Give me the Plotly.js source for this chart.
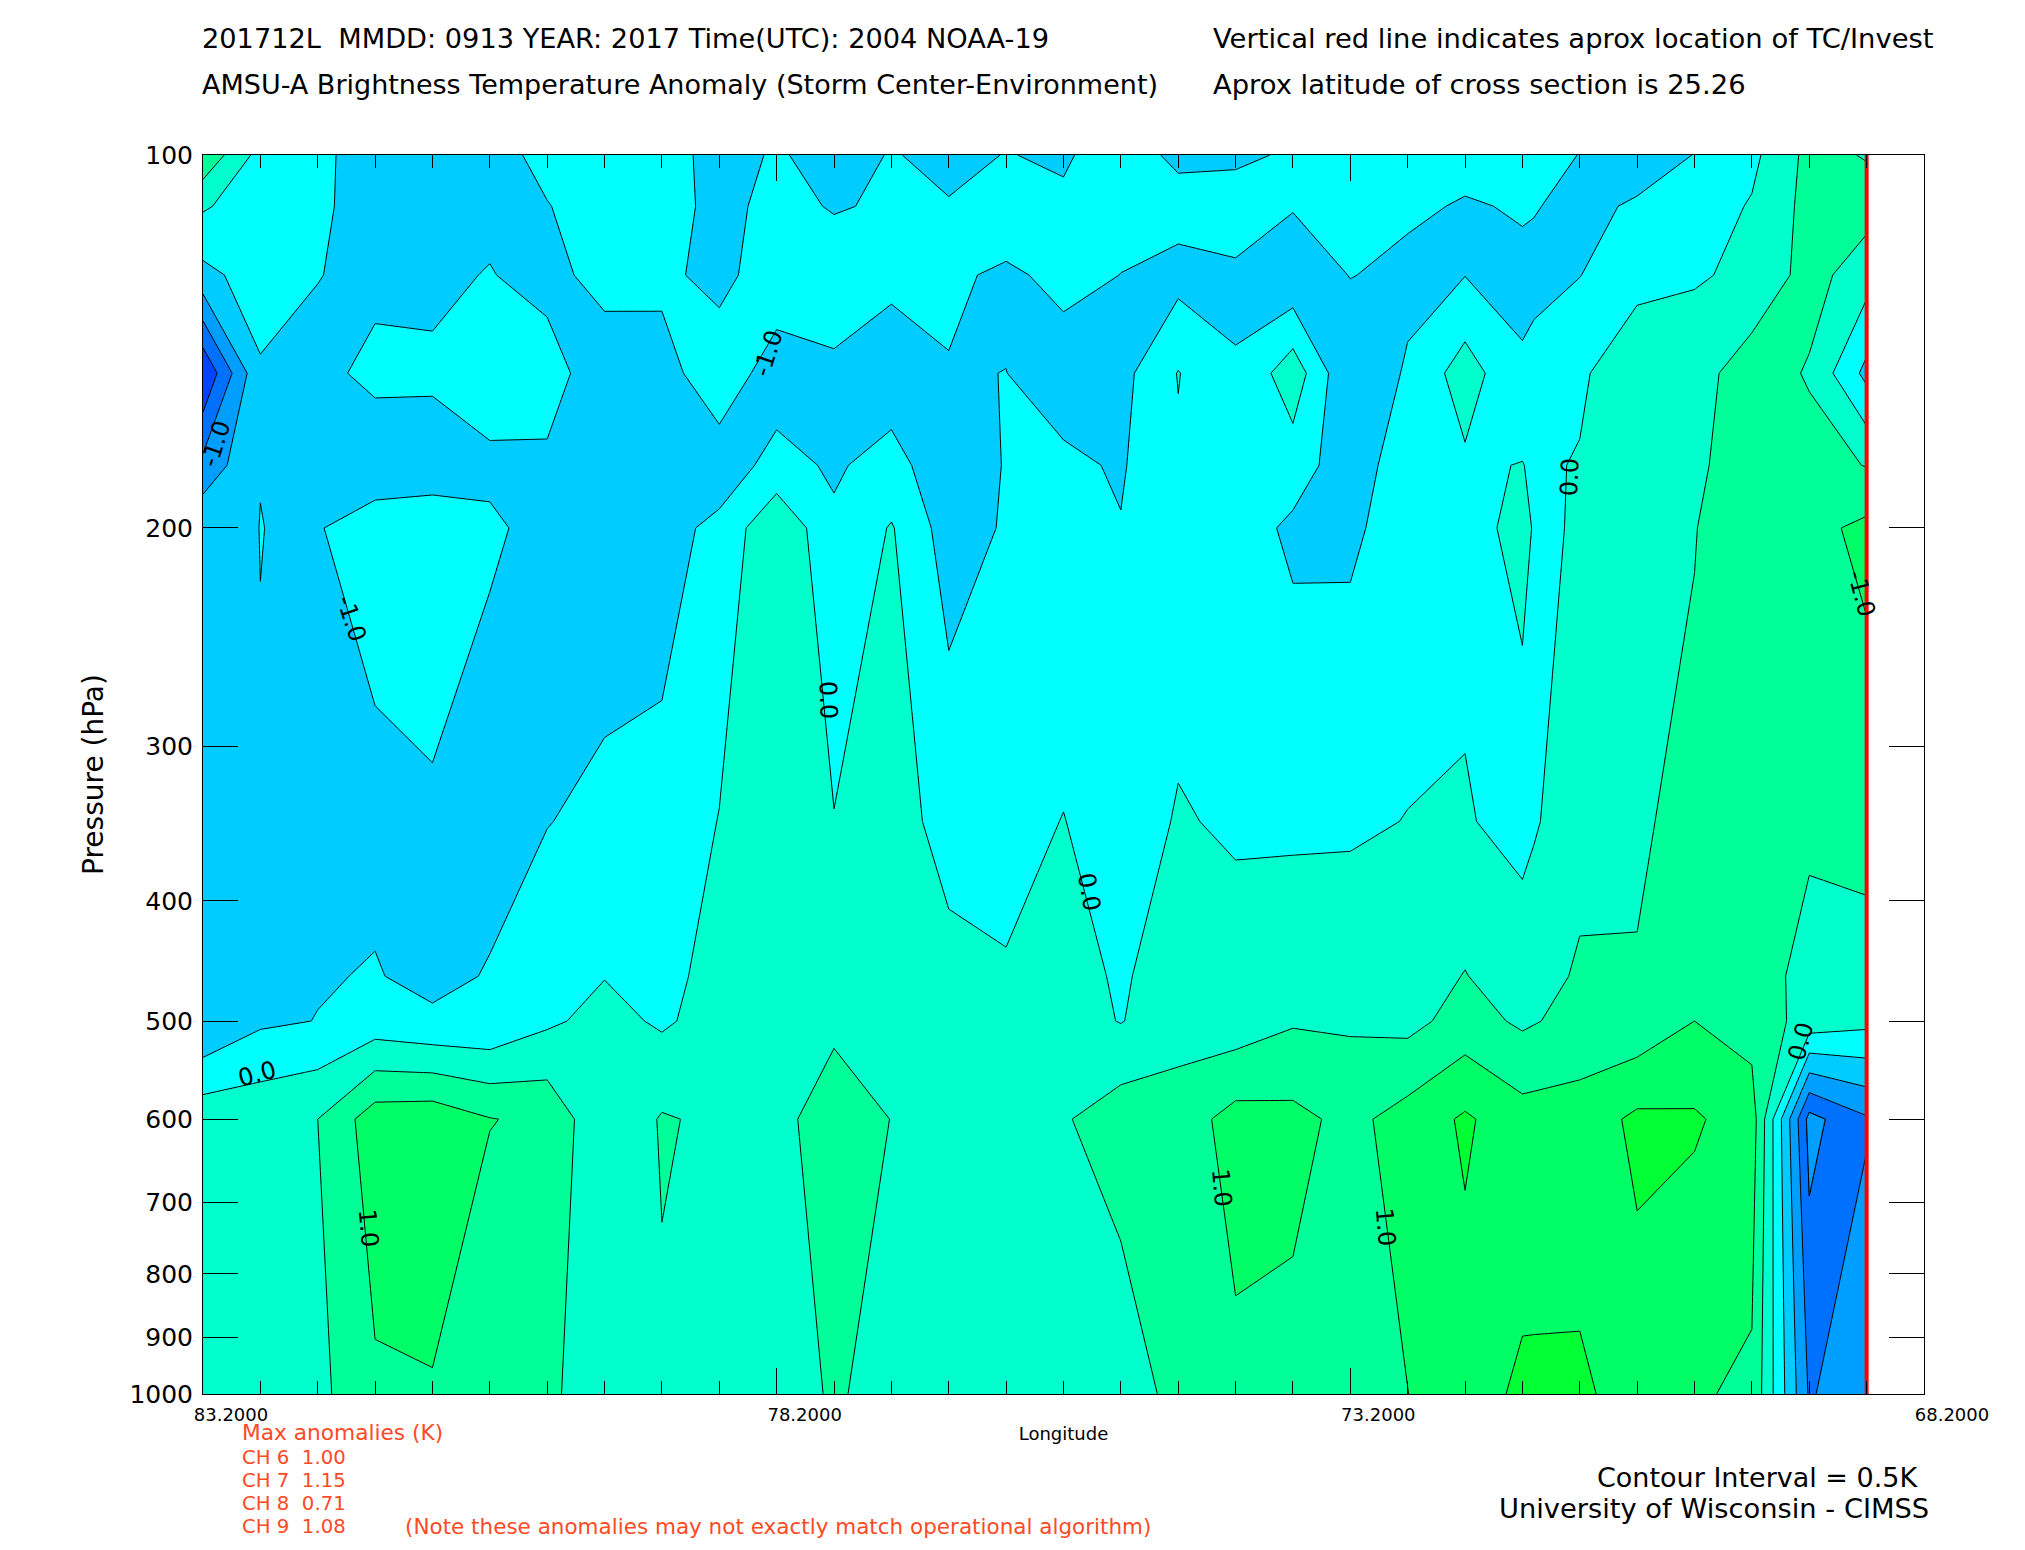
<!DOCTYPE html>
<html><head><meta charset="utf-8">
<script src="https://cdn.plot.ly/plotly-3.0.1.min.js"></script>
<style>html,body{margin:0;padding:0;background:#fff}#chart{width:2025px;height:1550px}</style>
</head><body><div id="chart"></div>
<script>
// Pressure levels (hPa)
const pressure = [100,110,125,150,178,200,345,460,500,600,1000];
// Longitudes (deg W) of the columns
const longitude = [83.2,82.7,82.2,81.7,81.2,80.7,80.2,79.7,79.2,78.7,78.2,77.7,77.2,76.7,76.2,75.7,75.2,74.7,74.2,73.7,73.2,72.7,72.2,71.7,71.6,71.2,70.7,70.2,69.7,69.2,68.7];
// Brightness temperature anomaly by longitude column, top (100 hPa) to bottom (1000 hPa)
const lon832 = [.9,.06,-.65,-2.47,-1.36,-.58,-.82,-.95,-.99,.33,.25];
const lon827 = [-.18,-.3,-.25,-.56,-.503,-.498,-.509,-.56,-.58,.355,.3];
const lon822 = [-.35,-.41,-.49,-.6,-.57,-.525,-.54,-.53,-.49,.5,.36];
const lon817 = [-.82,-.72,-.59,-.408,-.75,-.3,-.63,-.475,-.29,1.27,.933];
const lon812 = [-.75,-.68,-.58,-.44,-.68,-.3,-.55,-.62,-.42,1.32,.966];
const lon807 = [-.7,-.6,-.48,-.31,-.57,-.45,-.68,-.47,-.42,1.02,.56];
const lon802 = [-.35,-.52,-.65,-.3,-.58,-.6,-.51,-.3,-.085,.89,.6];
const lon797 = [-.2,-.26,-.33,-.79,-.75,-.7,-.42,-.015,.16,.07,.2];
const lon792 = [-.25,-.33,-.43,-.62,-.62,-.6,-.43,-.13,-.07,.542,.43];
const lon787 = [-.71,-.62,-.6,-.3,-.66,-.43,.02,.15,.2,.412,.3];
const lon782 = [-.44,-.38,-.3,-.66,-.4,.49,.35,.3,.3,.38,.3];
const lon777 = [-.71,-.53,-.28,-.573,-.54,-.45,.02,.25,.42,.707,.547];
const lon772 = [-.47,-.45,-.42,-.69,-.38,.04,.2,.3,.3,.493,.354];
const lon767 = [-.628,-.47,-.4,-.53,-.72,-.737,-.17,.13,.25,.3,.3];
const lon762 = [-.485,-.1,-.6,-.495,-.48,-.45,-.13,.03,.12,.3,.3];
const lon757 = [-.56,-.42,-.35,-.75,-.405,-.3,.01,.15,.2,.45,.3];
const lon752 = [-.25,-.35,-.505,-.66,-.55,-.48,-.2,-.05,-.02,.78,.15];
const lon747 = [-.61,-.3,-.665,.02,-.07,-.2,.03,.2,.28,.75,.7];
const lon742 = [-.56,-.35,-.55,-.48,-.3,-.25,-.05,.15,.22,1.18,.9];
const lon737 = [-.46,-.46,-.9,.3,-.25,-.6,-.07,.25,.45,1.13,.87];
const lon732 = [-.3,-.3,-.48,-.99,-.8,-.6,-.06,.25,.43,.87,.75];
const lon727 = [-.2,-.4,-.65,-.43,-.18,-.23,.01,.25,.35,1.2,.995];
const lon722 = [-.3,-.55,-.51,.24,-.08,-.1,.03,.52,.7,1.57,1.3];
const lon717 = [-.3,-.45,-.62,-.44,.02,.08,-.12,.2,.42,1.2,1.58];
const lon716 = [-.34,-.48,-.6,-.38,-.1,-.02,-.05,.28,.47,1.21,1.58];
const lon712 = [-.51,-.6,-.51,-.1,.04,.01,.3,.57,.655,1.23,1.58];
const lon707 = [-.7,-.45,-.2,.45,.45,.4,.45,.52,.65,1.6,1.3];
const lon702 = [-.49,-.25,-.05,.29,.38,.48,.61,.72,1,1.56,1.05];
const lon697 = [-.12,.04,.1,.78,.85,.88,.92,.9,.79,1.26,.92];
const lon692 = [.64,.66,.7,.45,.7,.85,.65,.22,.31,-2.17,-1.56];
const lon687 = [.47,.7,.21,-.64,.48,1.12,.72,.26,.146,-1.56,-1.06];
const columns = [lon832,lon827,lon822,lon817,lon812,lon807,lon802,lon797,lon792,lon787,lon782,lon777,lon772,lon767,lon762,lon757,lon752,lon747,lon742,lon737,lon732,lon727,lon722,lon717,lon716,lon712,lon707,lon702,lon697,lon692,lon687];
const bandColors = ['#0044ff','#0070ff','#009fff','#00ccff','#00ffff','#00ffcc','#00ff99','#00ff66','#00ff33'];
const xTickVals = [83.2,78.2,73.2,68.2];
const xTickText = ['83.2000','78.2000','73.2000','68.2000'];
const yTickVals = [100,200,300,400,500,600,700,800,900,1000];
const stormLon = 68.7;
const maxAnomalies = ['Max anomalies (K)','CH 6  1.00','CH 7  1.15','CH 8  0.71','CH 9  1.08'];

const FONT = '"DejaVu Sans",sans-serif';
const L=203,T=154.5,W=1721,H=1240;
const z = pressure.map((_,r)=>columns.map(c=>c[r]));
const lastIdx = longitude.length-4;
const traces = [{
  type:'contour', x:longitude, y:pressure, z:z, autocontour:false, showscale:false, hoverinfo:'skip',
  contours:{start:-2,end:1.5,size:.5,coloring:'fill'},
  colorscale:bandColors.map((c,i)=>[i/(bandColors.length-1),c]),
  line:{color:'#000',width:1,smoothing:0}
},{
  type:'contour', x:longitude.slice(lastIdx), y:pressure, z:z.map(r=>r.slice(lastIdx).map(v=>-v)), autocontour:false, showscale:false, hoverinfo:'skip',
  contours:{start:2,end:2,size:1,coloring:'fill'},
  colorscale:[[0,'rgba(0,0,0,0)'],[1,'#009fff']],
  line:{color:'#000',width:1,smoothing:0}
},{
  type:'scatter', mode:'lines', x:[stormLon,stormLon], y:[100,1000], line:{color:'#ff0000',width:4}, hoverinfo:'skip', showlegend:false
}];
function note(text,px,py,size,opts){
  return Object.assign({text:text,xref:'paper',yref:'paper',x:(px-L)/W,y:1-(py-T)/H,xanchor:'left',yanchor:'middle',showarrow:false,
    font:{family:FONT,size:size,color:'#000'}},opts||{});
}
const RED='#ff4a26';
const annotations = [
  note('201712L\u00a0\u00a0MMDD: 0913 YEAR: 2017 Time(UTC): 2004 NOAA-19',200,37.5,27.2),
  note('Vertical red line indicates aprox location of TC/Invest',1211,37.5,27.4),
  note('AMSU-A Brightness Temperature Anomaly (Storm Center-Environment)',200,84,27),
  note('Aprox latitude of cross section is 25.26',1211,84,27.4),
  note('Contour Interval = 0.5K',1921,1478,27,{xanchor:'right'}),
  note('University of Wisconsin - CIMSS',1931,1509,27.3,{xanchor:'right'}),
  note('(Note these anomalies may not exactly match operational algorithm)',403,1527.5,21.5,{font:{family:FONT,size:21.5,color:RED}})
].concat(maxAnomalies.map((t,i)=>note(t.replace(/  /g,'\u00a0\u00a0'),240,[1433.5,1458,1481,1504,1527.5][i],i?19.7:21.7,{font:{family:FONT,size:i?19.7:21.7,color:RED}})));
// contour labels as drawn in the reference
const contourLabels = [['-1.0',216,444,-72],['-1.0',351,618,72],['-1.0',768.5,353,-72],['0.0',828,700,88],['0.0',1089,892,80],['0.0',257,1074,-15],['1.0',368.6,1228,85],['1.0',1222,1188,85],['1.0',1385.6,1227,85],['0.0',1570,477,-88],['0.0',1800.6,1042,-75],['-1.0',1861,593,75]];
contourLabels.forEach(l=>annotations.push(note(l[0],l[1],l[2],24,{xanchor:'center',textangle:l[3]})));

const layout = {
  width:2025,height:1550,autosize:false,showlegend:false,paper_bgcolor:'#fff',plot_bgcolor:'#fff',
  margin:{l:L,t:T,r:2025-L-W,b:1550-T-H,pad:0},
  font:{family:FONT,color:'#000'},
  xaxis:{type:'linear',range:[83.2,68.2],autorange:false,tickmode:'array',tickvals:xTickVals,ticktext:xTickText,ticks:'inside',ticklen:26,tickwidth:1,tickcolor:'#000',
    tickangle:0,tickfont:{family:FONT,size:18},ticklabelshift:-28,ticklabelstandoff:4,showgrid:false,zeroline:false,showline:true,linecolor:'#000',linewidth:1,mirror:'ticks',
    minor:{tickmode:'linear',tick0:83.2,dtick:.5,ticks:'inside',ticklen:13,tickwidth:1,tickcolor:'#000',showgrid:false},
    title:{text:'Longitude',font:{family:FONT,size:18},standoff:3}},
  yaxis:{type:'log',range:[3,2],autorange:false,tickmode:'array',tickvals:yTickVals,ticktext:yTickVals.map(String),ticks:'inside',ticklen:35,tickwidth:1,tickcolor:'#000',
    tickfont:{family:FONT,size:25},ticklabelstandoff:4,showgrid:false,zeroline:false,showline:true,linecolor:'#000',linewidth:1,mirror:'ticks',
    title:{text:'Pressure (hPa)',font:{family:FONT,size:28},standoff:17}},
  annotations:annotations
};
Plotly.newPlot('chart',traces,layout,{staticPlot:true,displayModeBar:false});
</script></body></html>
